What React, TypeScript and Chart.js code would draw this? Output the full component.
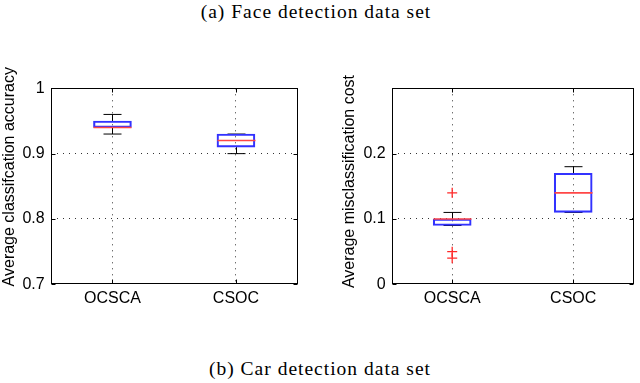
import React, { useEffect, useRef } from "react";
import { Chart, registerables } from "chart.js";

Chart.register(...registerables);

const categories = ["OCSCA", "CSOC"];

// Left panel: average classification accuracy
const accMin = [0.93, 0.9];
const accQ1 = [0.94, 0.91];
const accMed = [0.94, 0.92];
const accQ3 = [0.95, 0.93];
const accMax = [0.96, 0.93];
const accOutlierCats: string[] = [];
const accOutlierVals: number[] = [];
const accTicks = [0.7, 0.8, 0.9, 1.0];

// Right panel: average misclassification cost
const costMin = [0.09, 0.11];
const costQ1 = [0.09, 0.11];
const costMed = [0.1, 0.14];
const costQ3 = [0.1, 0.17];
const costMax = [0.11, 0.18];
const costOutlierCats = ["OCSCA", "OCSCA", "OCSCA"];
const costOutlierVals = [0.14, 0.05, 0.04];
const costTicks = [0, 0.1, 0.2];

const topCaption = "(a) Face detection data set";
const bottomCaption = "(b) Car detection data set";

type PanelProps = {
  pageLeft: number;
  axisWidth: number;
  padRight: number;
  yMin: number;
  yMax: number;
  ticks: number[];
  title: string;
  titleX: number;
  titleY: number;
  mins: number[];
  q1s: number[];
  meds: number[];
  q3s: number[];
  maxs: number[];
  outCats: string[];
  outVals: number[];
};

const FONT = "'Liberation Sans', Arial, Helvetica, sans-serif";
const FS = 16;
const W = 320;
const H = 280;

function Panel(p: PanelProps) {
  const ref = useRef<HTMLCanvasElement | null>(null);
  useEffect(() => {
    if (!ref.current) return;
    const boxHalf = 19;
    const capHalf = 9;
    const boxPlugin = {
      id: "boxParts",
      beforeDatasetsDraw(chart: any) {
        const ctx = chart.ctx;
        const xs = chart.scales.x;
        const ys = chart.scales.y;
        ctx.save();
        ctx.strokeStyle = "#000";
        ctx.lineWidth = 1;
        for (let i = 0; i < categories.length; i++) {
          const x = Math.round(xs.getPixelForValue(i)) + 0.5;
          const yHi = ys.getPixelForValue(p.maxs[i]);
          const yQ3 = ys.getPixelForValue(p.q3s[i]);
          const yLo = ys.getPixelForValue(p.mins[i]);
          const yQ1 = ys.getPixelForValue(p.q1s[i]);
          ctx.beginPath();
          ctx.moveTo(x, yQ3);
          ctx.lineTo(x, yHi);
          ctx.moveTo(x - capHalf, yHi);
          ctx.lineTo(x + capHalf, yHi);
          ctx.moveTo(x, yQ1);
          ctx.lineTo(x, yLo);
          ctx.moveTo(x - capHalf, yLo);
          ctx.lineTo(x + capHalf, yLo);
          ctx.stroke();
        }
        ctx.restore();
      },
      afterDatasetsDraw(chart: any) {
        const ctx = chart.ctx;
        const xs = chart.scales.x;
        const ys = chart.scales.y;
        ctx.save();
        ctx.strokeStyle = "rgb(255,70,70)";
        ctx.lineWidth = 1.6;
        for (let i = 0; i < categories.length; i++) {
          const x = Math.round(xs.getPixelForValue(i)) + 0.5;
          const y = ys.getPixelForValue(p.meds[i]);
          ctx.beginPath();
          ctx.moveTo(x - boxHalf, y);
          ctx.lineTo(x + boxHalf, y);
          ctx.stroke();
        }
        ctx.restore();
      },
      afterDraw(chart: any) {
        const ctx = chart.ctx;
        const a = chart.chartArea;
        const xs = chart.scales.x;
        const ys = chart.scales.y;
        const l = Math.round(a.left) + 0.5;
        const r = Math.round(a.right) - 0.5;
        const t = Math.round(a.top) + 0.5;
        const b = Math.round(a.bottom) - 0.5;
        ctx.save();
        ctx.strokeStyle = "#000";
        ctx.lineWidth = 1;
        ctx.strokeRect(l, t, r - l, b - t);
        ctx.beginPath();
        for (const v of p.ticks) {
          const y = Math.round(ys.getPixelForValue(v)) + 0.5;
          ctx.moveTo(l, y);
          ctx.lineTo(l + 4, y);
          ctx.moveTo(r, y);
          ctx.lineTo(r - 4, y);
        }
        for (let i = 0; i < categories.length; i++) {
          const x = Math.round(xs.getPixelForValue(i)) + 0.5;
          ctx.moveTo(x, b);
          ctx.lineTo(x, b - 4);
          ctx.moveTo(x, t);
          ctx.lineTo(x, t + 4);
        }
        ctx.stroke();
        ctx.translate(p.titleX, p.titleY);
        ctx.rotate(-Math.PI / 2);
        ctx.fillStyle = "#000";
        ctx.font = FS + "px " + FONT;
        ctx.textAlign = "center";
        ctx.textBaseline = "middle";
        ctx.fillText(p.title, 0, 0);
        ctx.restore();
      },
    };

    const gridColor = "rgba(0,0,0,0.8)";
    const yGridColor = (c: any) => {
      const v = c.tick ? c.tick.value : NaN;
      if (Math.abs(v - p.yMin) < 1e-9 || Math.abs(v - p.yMax) < 1e-9) return "rgba(0,0,0,0)";
      return gridColor;
    };
    const chart = new Chart(ref.current, {
      type: "bar",
      data: {
        labels: categories,
        datasets: [
          {
            type: "bar",
            data: categories.map((_, i) => [p.q1s[i], p.q3s[i]]) as any,
            backgroundColor: "rgba(0,0,0,0)",
            borderColor: "rgb(50,50,255)",
            borderWidth: 1.5,
            borderSkipped: false,
            barThickness: 38,
          } as any,
          {
            type: "scatter",
            data: p.outCats.map((c, i) => ({ x: c, y: p.outVals[i] })) as any,
            pointStyle: "cross",
            radius: 5,
            borderColor: "rgb(255,40,40)",
            borderWidth: 1.3,
            showLine: false,
          } as any,
        ],
      },
      options: {
        animation: false,
        responsive: false,
        events: [],
        layout: { padding: { left: 0, right: p.padRight, top: 48.3, bottom: 0 } },
        plugins: {
          legend: { display: false },
          tooltip: { enabled: false },
          title: { display: false },
        },
        scales: {
          x: {
            type: "category",
            offset: true,
            grid: {
              offset: false,
              color: gridColor,
              lineWidth: 1,
              drawTicks: false,
              borderDash: [1, 5],
            } as any,
            border: { display: false, dash: [1, 5] },
            ticks: {
              padding: 5,
              color: "#000",
              font: { size: FS, family: FONT },
              maxRotation: 0,
              autoSkip: false,
            },
            afterFit: (s: any) => {
              s.height = 35.7;
            },
          } as any,
          y: {
            type: "linear",
            min: p.yMin,
            max: p.yMax,
            grid: {
              color: yGridColor,
              lineWidth: 1,
              drawTicks: false,
              borderDash: [1, 5],
            } as any,
            border: { display: false, dash: [1, 5] },
            ticks: {
              stepSize: 0.1,
              padding: 6,
              color: "#000",
              font: { size: FS, family: FONT },
              callback: (v: any) => String(Number(Number(v).toFixed(2))),
            },
            afterBuildTicks: (s: any) => {
              s.ticks = p.ticks.map((v) => ({ value: v }));
            },
            afterFit: (s: any) => {
              s.width = p.axisWidth;
            },
          } as any,
        },
      },
      plugins: [boxPlugin],
    });
    return () => chart.destroy();
  }, []);
  return (
    <canvas
      ref={ref}
      width={W}
      height={H}
      style={{ position: "absolute", left: p.pageLeft, top: 40, width: W, height: H }}
    />
  );
}

const captionStyle: React.CSSProperties = {
  position: "absolute",
  left: 0,
  width: 640,
  textAlign: "center",
  fontFamily: "'Liberation Serif', 'Times New Roman', serif",
  fontSize: 19.5,
  lineHeight: "19.5px",
  letterSpacing: "1px",
  color: "#000",
  whiteSpace: "nowrap",
};

export default function App() {
  return (
    <div
      style={{
        position: "fixed",
        left: 0,
        top: 0,
        width: 640,
        height: 383,
        background: "#fff",
        overflow: "hidden",
      }}
    >
      <div style={{ ...captionStyle, top: 1.7, left: -4 }}>{topCaption}</div>
      <Panel
        pageLeft={0}
        axisWidth={50.7}
        padRight={22.3}
        yMin={0.7}
        yMax={1.0}
        ticks={accTicks}
        title="Average classifcation accuracy"
        titleX={9.5}
        titleY={136.7}
        mins={accMin}
        q1s={accQ1}
        meds={accMed}
        q3s={accQ3}
        maxs={accMax}
        outCats={accOutlierCats}
        outVals={accOutlierVals}
      />
      <Panel
        pageLeft={320}
        axisWidth={71.7}
        padRight={2.3}
        yMin={0}
        yMax={0.3}
        ticks={costTicks}
        title="Average misclassification cost"
        titleX={30}
        titleY={141.5}
        mins={costMin}
        q1s={costQ1}
        meds={costMed}
        q3s={costQ3}
        maxs={costMax}
        outCats={costOutlierCats}
        outVals={costOutlierVals}
      />
      <div style={{ ...captionStyle, top: 358.7 }}>{bottomCaption}</div>
    </div>
  );
}
